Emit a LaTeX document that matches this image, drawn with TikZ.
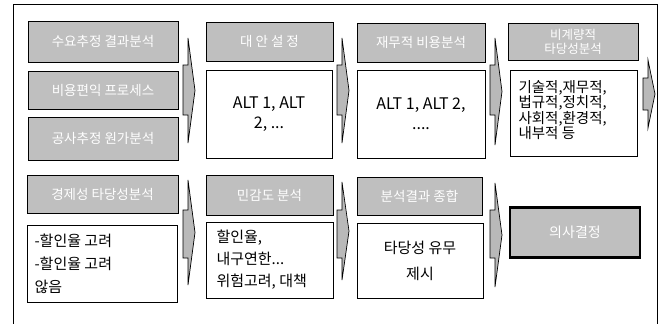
\documentclass[tikz,border=0pt]{standalone}
\usepackage{fontspec}
\setmainfont{Noto Sans CJK KR}
\newfontfamily\kr{Noto Sans CJK KR}
\tikzset{
  hdr/.style={draw=black, line width=1pt, fill=gray!50, inner sep=0pt, text=white, font=\kr\fontsize{13.5}{14}\selectfont, align=center},
  body/.style={draw=black, line width=0.8pt, fill=white, inner sep=0pt, font=\kr\fontsize{15}{17}\selectfont},
  final/.style={draw=black, line width=2.2pt, fill=gray!50, inner sep=0pt, text=white, font=\kr\fontsize{14}{15}\selectfont},
  barrow/.style={draw=black, line width=0.7pt, fill=gray!55},
  frame/.style={draw=black, line width=1pt}
}
\newcommand\blkarrow[5]{% x-left, head top, head bottom, body top, body bottom
  \pgfmathsetmacro\xm{#1+5}\pgfmathsetmacro\xt{#1+12}\pgfmathsetmacro\ym{(#2+#3)/2}
  \draw[barrow] (#1,#4) -- (\xm,#4) -- (\xm,#2) -- (\xt,\ym) -- (\xm,#3) -- (\xm,#5) -- (#1,#5) -- cycle;}
\begin{document}
\begin{tikzpicture}[x=1pt,y=-1pt]
\useasboundingbox (0,0) rectangle (667,324);
\draw[frame] (13,328) -- (13,4) -- (657,4) -- (657,328);
% column 1 top
\node[hdr, minimum width=150, minimum height=41] (h11) at (103,41.5) {수요추정 결과분석};
\node[hdr, minimum width=150, minimum height=38] (h12) at (103,90) {비용편익 프로세스};
\node[hdr, minimum width=150, minimum height=43] (h13) at (103,138.5) {공사추정 원가분석};
% column 2 top
\node[hdr, minimum width=127, minimum height=39] (h2) at (269.5,41.5) {대 안 설 정};
\node[body, minimum width=126, minimum height=88] (c2) at (269,114) {};
\node[font=\kr\fontsize{16}{20}\selectfont, align=center] at (c2.center) {ALT 1, ALT\\2, ...};
% column 3 top
\node[hdr, minimum width=128, minimum height=39] (h3) at (421,42.5) {재무적 비용분석};
\node[body, minimum width=128, minimum height=88] (c3) at (421,114) {};
\node[font=\kr\fontsize{16}{20}\selectfont, align=center] at (c3.center) {ALT 1, ALT 2,\\....};
% column 4 top
\node[hdr, minimum width=130, minimum height=37, font=\kr\fontsize{12.5}{14}\selectfont] (h4) at (573,41.5) {비계량적\\타당성분석};
\node[body, minimum width=127, minimum height=86] (c4) at (573.5,113) {};
\node[anchor=west, font=\kr\fontsize{14.5}{15.5}\selectfont, align=left] at (515,110) {기술적,재무적,\\법규적,정치적,\\사회적,환경적,\\내부적 등};
% bottom row
\node[hdr, minimum width=151, minimum height=38] (d1h) at (102.5,194) {경제성 타당성분석};
\node[body, minimum width=150, minimum height=77] (d1) at (102,263.5) {};
\node[anchor=west, font=\kr\fontsize{15}{23}\selectfont, align=left] at (31,264) {-할인율 고려\\-할인율 고려\\않음};
\node[hdr, minimum width=127, minimum height=40] (d2h) at (269.5,195) {민감도 분석};
\node[body, minimum width=127, minimum height=76] (d2) at (269.5,260) {};
\node[anchor=west, font=\kr\fontsize{15}{22}\selectfont, align=left] at (213,260) {할인율,\\내구연한...\\위험고려, 대책};
\node[hdr, minimum width=125, minimum height=38] (d3h) at (419.5,196) {분석결과 종합};
\node[body, minimum width=126, minimum height=75] (d3) at (420,260.5) {};
\node[font=\kr\fontsize{15}{26}\selectfont, align=center] at (d3.center) {타당성 유무\\제시};
\node[final, minimum width=130, minimum height=50] (fin) at (575,232.5) {의사결정};
% block arrows
\blkarrow{183}{38}{143}{65}{115}
\blkarrow{337}{38}{143}{65}{115}
\blkarrow{490}{38}{145}{65}{115}
\blkarrow{643}{60}{128}{78}{110}
\blkarrow{183}{180}{285}{210}{258}
\blkarrow{337}{182}{280}{210}{258}
\blkarrow{490}{183}{287}{210}{258}
\end{tikzpicture}
\end{document}
